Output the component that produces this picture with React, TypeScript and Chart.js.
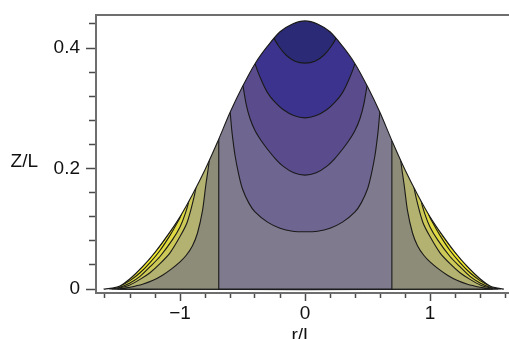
import React, { useEffect, useRef } from 'react';
import { Chart, registerables } from 'chart.js';

Chart.register(...registerables);

// ---------- data (r/L, Z/L) ----------
const outline: [number, number][] = [
  [-1.61, 0], [-1.54, 0.0015], [-1.48, 0.005], [-1.4, 0.017], [-1.3, 0.037], [-1.2, 0.061],
  [-1.1, 0.089], [-1.0, 0.12], [-0.9, 0.157], [-0.8, 0.198], [-0.7, 0.244], [-0.6, 0.293],
  [-0.5, 0.336], [-0.4, 0.374], [-0.3, 0.403], [-0.2, 0.427], [-0.1, 0.44], [0, 0.445],
  [0.1, 0.44], [0.2, 0.427], [0.3, 0.403], [0.4, 0.374], [0.5, 0.336], [0.6, 0.293],
  [0.7, 0.244], [0.8, 0.198], [0.9, 0.157], [1.0, 0.12], [1.1, 0.089], [1.2, 0.061],
  [1.3, 0.037], [1.4, 0.017], [1.48, 0.005], [1.54, 0.0015], [1.59, 0],
];

// contours in the outer (yellow/olive) zone, left branch then right branch
const contourO4: [number, number][] = [
  [-0.95, 0.19], [-0.99, 0.124], [-1.03, 0.107], [-1.08, 0.089], [-1.16, 0.064], [-1.24, 0.044],
  [-1.32, 0.027], [-1.4, 0.014], [-1.48, 0.005], [-1.56, 0],
  [1.56, 0], [1.48, 0.005], [1.4, 0.014], [1.32, 0.027], [1.24, 0.044], [1.16, 0.064],
  [1.08, 0.089], [1.03, 0.107], [0.99, 0.124], [0.95, 0.19],
];
const contourO3: [number, number][] = [
  [-0.88, 0.22], [-0.93, 0.146], [-0.96, 0.124], [-1.0, 0.103], [-1.06, 0.082], [-1.16, 0.054],
  [-1.24, 0.037], [-1.32, 0.021], [-1.4, 0.01], [-1.48, 0.003], [-1.54, 0],
  [1.54, 0], [1.48, 0.003], [1.4, 0.01], [1.32, 0.021], [1.24, 0.037], [1.16, 0.054],
  [1.06, 0.082], [1.0, 0.103], [0.96, 0.124], [0.93, 0.146], [0.88, 0.22],
];
const contourO2: [number, number][] = [
  [-0.82, 0.28], [-0.87, 0.172], [-0.9, 0.142], [-0.944, 0.11], [-1.0, 0.087], [-1.08, 0.06],
  [-1.16, 0.042], [-1.24, 0.027], [-1.32, 0.016], [-1.41, 0.006], [-1.5, 0],
  [1.5, 0], [1.41, 0.006], [1.32, 0.016], [1.24, 0.027], [1.16, 0.042], [1.08, 0.06],
  [1.0, 0.087], [0.944, 0.11], [0.9, 0.142], [0.87, 0.172], [0.82, 0.28],
];
const contourO1: [number, number][] = [
  [-0.72, 0.32], [-0.765, 0.215], [-0.795, 0.17], [-0.82, 0.13], [-0.86, 0.093], [-0.9, 0.072],
  [-0.95, 0.056], [-1.0, 0.045], [-1.07, 0.033], [-1.14, 0.023], [-1.22, 0.014], [-1.3, 0.008],
  [-1.4, 0.003], [-1.48, 0],
  [1.48, 0], [1.4, 0.003], [1.3, 0.008], [1.22, 0.014], [1.14, 0.023], [1.07, 0.033],
  [1.0, 0.045], [0.95, 0.056], [0.9, 0.072], [0.86, 0.093], [0.82, 0.13], [0.795, 0.17],
  [0.765, 0.215], [0.72, 0.32],
];

// vertical dividing lines
const dividerR: [number, number] = [-0.69, 0.695];

// U-shaped contours in the central (purple) zone
const contourC4: [number, number][] = [
  [-0.63, 0.33], [-0.6, 0.295], [-0.585, 0.262], [-0.56, 0.222], [-0.53, 0.19], [-0.5, 0.166],
  [-0.45, 0.143], [-0.4, 0.128], [-0.3, 0.111], [-0.2, 0.101], [-0.1, 0.096], [0, 0.095],
  [0.1, 0.096], [0.2, 0.101], [0.3, 0.111], [0.4, 0.128], [0.45, 0.143], [0.5, 0.166],
  [0.53, 0.19], [0.56, 0.222], [0.585, 0.262], [0.6, 0.295], [0.63, 0.33],
];
const contourC3: [number, number][] = [
  [-0.52, 0.37], [-0.495, 0.336], [-0.47, 0.306], [-0.44, 0.283], [-0.4, 0.263], [-0.35, 0.246],
  [-0.3, 0.232], [-0.24, 0.217], [-0.176, 0.204], [-0.09, 0.193], [0, 0.189],
  [0.09, 0.193], [0.176, 0.204], [0.24, 0.217], [0.3, 0.232], [0.35, 0.246], [0.4, 0.263],
  [0.44, 0.283], [0.47, 0.306], [0.495, 0.336], [0.52, 0.37],
];
const contourC2: [number, number][] = [
  [-0.42, 0.4], [-0.4, 0.375], [-0.36, 0.352], [-0.3, 0.326], [-0.24, 0.31], [-0.176, 0.298],
  [-0.09, 0.288], [0, 0.284], [0.09, 0.288], [0.176, 0.298], [0.24, 0.31], [0.3, 0.326],
  [0.36, 0.352], [0.4, 0.375], [0.42, 0.4],
];
const contourC1: [number, number][] = [
  [-0.265, 0.44], [-0.248, 0.417], [-0.21, 0.403], [-0.15, 0.388], [-0.08, 0.378], [0, 0.375],
  [0.08, 0.378], [0.15, 0.388], [0.21, 0.403], [0.248, 0.417], [0.265, 0.44],
];

// axes
const xTickValues = [-1.6, -1.4, -1.2, -1, -0.8, -0.6, -0.4, -0.2, 0, 0.2, 0.4, 0.6, 0.8, 1, 1.2, 1.4, 1.6];
const xMajorTicks = [-1, 0, 1];
const xMajorLabels = ['\u22121', '0', '1'];
const yTickValues = [0, 0.04, 0.08, 0.12, 0.16, 0.2, 0.24, 0.28, 0.32, 0.36, 0.4, 0.44];
const yMajorTicks = [0, 0.2, 0.4];
const yMajorLabels = ['0', '0.2', '0.4'];
const xTitle = 'r/L';
const yTitle = 'Z/L';

// ---------- layout / style ----------
const X_MIN = -1.672;
const X_MAX = 1.632;
const Y_MIN = -0.0066;
const Y_MAX = 0.4548;
const CAP = 0.5;
const Y_TITLE_AT = 0.212;
const FONT = { family: "'Liberation Sans', Arial, Helvetica, sans-serif", size: 19 };
const TEXT = '#111111';
const FRAME = '#6e6e6e';
const TICK = '#4a4a4a';
const LINE = '#1a1a1a';

const near = (a: number, b: number) => Math.abs(a - b) < 1e-6;

export default function App() {
  const ref = useRef<HTMLCanvasElement>(null);

  useEffect(() => {
    if (!ref.current) return;
    const pts = (a: [number, number][]) => a.map(([x, y]) => ({ x, y }));
    const closeTop = (a: [number, number][]): [number, number][] => [
      [a[0][0], CAP], ...a, [a[a.length - 1][0], CAP],
    ];
    const central: [number, number][] = [
      [dividerR[0], CAP], [dividerR[0], 0], [dividerR[1], 0], [dividerR[1], CAP],
    ];

    const layers: any[] = [
      { data: pts(outline), fill: 'origin', backgroundColor: '#f2ea2c', tension: 0.3 },
      { data: pts(closeTop(contourO4)), fill: 'shape', backgroundColor: '#e0db42', tension: 0.25 },
      { data: pts(closeTop(contourO3)), fill: 'shape', backgroundColor: '#cdc958', tension: 0.25 },
      { data: pts(closeTop(contourO2)), fill: 'shape', backgroundColor: '#b4b270', tension: 0.25 },
      { data: pts(closeTop(contourO1)), fill: 'shape', backgroundColor: '#8d8c78', tension: 0.25 },
      { data: pts(central), fill: 'shape', backgroundColor: '#7f7a8e', tension: 0 },
      { data: pts(closeTop(contourC4)), fill: 'shape', backgroundColor: '#6e6590', tension: 0.25 },
      { data: pts(closeTop(contourC3)), fill: 'shape', backgroundColor: '#594b8c', tension: 0.25 },
      { data: pts(closeTop(contourC2)), fill: 'shape', backgroundColor: '#3c338e', tension: 0.25 },
      { data: pts(closeTop(contourC1)), fill: 'shape', backgroundColor: '#2b2a76', tension: 0.25 },
      { data: pts(outline), fill: 'end', backgroundColor: '#ffffff', tension: 0.3 },
    ];
    const datasets = layers.map((l, i) => ({
      ...l,
      xAxisID: 'x',
      yAxisID: 'y',
      borderColor: LINE,
      borderWidth: 1.1,
      borderJoinStyle: 'round',
      pointRadius: 0,
      pointHoverRadius: 0,
      order: layers.length - i,
    }));

    const border = { display: true, color: FRAME, width: 2, z: 1 };

    const chart = new Chart(ref.current, {
      type: 'line',
      data: { datasets },
      options: {
        responsive: false,
        animation: false,
        devicePixelRatio: 1,
        events: [],
        layout: { padding: 0 },
        plugins: { legend: { display: false }, tooltip: { enabled: false }, title: { display: false } },
        scales: {
          x: {
            type: 'linear',
            position: 'bottom',
            min: X_MIN,
            max: X_MAX,
            afterBuildTicks: (s: any) => { s.ticks = xTickValues.map((v) => ({ value: v })); },
            afterFit: (s: any) => { s.height = 46; s.paddingLeft = 0; s.paddingRight = 0; },
            ticks: {
              autoSkip: false,
              maxRotation: 0,
              minRotation: 0,
              padding: 1,
              color: TEXT,
              font: FONT,
              callback: (v: any) => {
                const i = xMajorTicks.findIndex((t) => near(t, Number(v)));
                return i >= 0 ? xMajorLabels[i] : '';
              },
            },
            grid: {
              display: true,
              drawOnChartArea: false,
              drawTicks: true,
              tickLength: 8,
              tickColor: TICK,
              tickWidth: 1.5,
              tickBorderDash: (c: any) =>
                c.tick && !xMajorTicks.some((t) => near(t, c.tick.value)) ? [4, 30] : [],
            },
            border,
            title: { display: true, text: xTitle, color: TEXT, font: FONT, padding: { top: 0, bottom: -8 } },
          },
          xTop: {
            type: 'linear',
            position: 'top',
            min: X_MIN,
            max: X_MAX,
            afterFit: (s: any) => { s.height = 15; s.paddingLeft = 0; s.paddingRight = 0; },
            ticks: { display: false },
            grid: { display: true, drawOnChartArea: false, drawTicks: false },
            border,
          },
          y: {
            type: 'linear',
            position: 'left',
            weight: 0,
            min: Y_MIN,
            max: Y_MAX,
            afterBuildTicks: (s: any) => { s.ticks = yTickValues.map((v) => ({ value: v })); },
            afterFit: (s: any) => { s.width = 54; s.paddingTop = 0; s.paddingBottom = 0; },
            ticks: {
              autoSkip: false,
              padding: 6,
              color: TEXT,
              font: FONT,
              callback: (v: any) => {
                const i = yMajorTicks.findIndex((t) => near(t, Number(v)));
                return i >= 0 ? yMajorLabels[i] : '';
              },
            },
            grid: {
              display: true,
              drawOnChartArea: false,
              drawTicks: true,
              tickLength: 10,
              tickColor: TICK,
              tickWidth: 1.5,
              tickBorderDash: (c: any) =>
                c.tick && !yMajorTicks.some((t) => near(t, c.tick.value)) ? [0, 3, 6, 40] : [],
            },
            border,
          },
          yLab: {
            type: 'linear',
            position: 'left',
            weight: 10,
            min: Y_MIN,
            max: Y_MAX,
            afterBuildTicks: (s: any) => { s.ticks = [{ value: Y_TITLE_AT }]; },
            afterFit: (s: any) => { s.width = 42; s.paddingTop = 0; s.paddingBottom = 0; },
            ticks: { autoSkip: false, padding: 4, color: TEXT, font: FONT, callback: () => yTitle },
            grid: { display: false, drawOnChartArea: false, drawTicks: false },
            border: { display: false },
          },
        },
      } as any,
    });
    return () => chart.destroy();
  }, []);

  return (
    <div style={{ position: 'fixed', left: 0, top: 0, width: 509, height: 339, overflow: 'hidden', background: '#ffffff' }}>
      <canvas ref={ref} width={509} height={339} style={{ display: 'block', width: 509, height: 339 }} />
    </div>
  );
}
